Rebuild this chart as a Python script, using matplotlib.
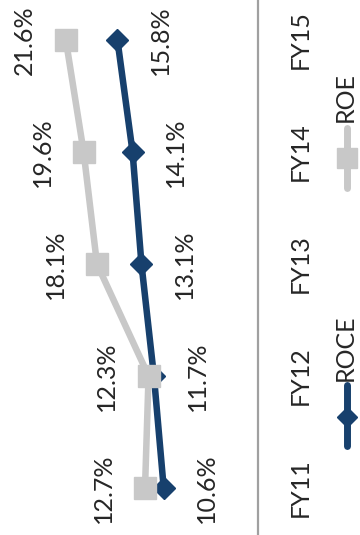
import matplotlib.pyplot as plt
from matplotlib.lines import Line2D

years = ["FY11", "FY12", "FY13", "FY14", "FY15"]
roce = [10.6, 11.7, 13.1, 14.1, 15.8]
roe = [12.7, 12.3, 18.1, 19.6, 21.6]

navy = "#17406d"
grey = "#c8c8c8"
txt = "#262626"
fs = 18
plt.rcParams["font.family"] = ["Lato", "DejaVu Sans"]

W, H = 360, 535
fig = plt.figure(figsize=(W / 100, H / 100), dpi=100)
# chart is laid out sideways: categories run bottom to top, values grow to the left
ax = fig.add_axes([0, 0, 258 / W, 1])
pos = list(range(len(years)))

ax.plot(roce, pos, color=navy, lw=4.7, marker="D", ms=11.3, zorder=2)
ax.plot(roe, pos, color=grey, lw=4.7, marker="s", ms=15.5, zorder=3)

for v, p in zip(roe, pos):
    ax.annotate(f"{v:.1f}%", (v, p), xytext=(-30, 0), textcoords="offset points",
                rotation=90, ha="center", va="center", fontsize=fs, color=txt)
for v, p in zip(roce, pos):
    ax.annotate(f"{v:.1f}%", (v, p), xytext=(31, 0), textcoords="offset points",
                rotation=90, ha="center", va="center", fontsize=fs, color=txt)

ax.set_xlim(29, 0)
ax.set_ylim(-0.42, 4.357)
ax.set_xticks([])
ax.yaxis.tick_right()
ax.set_yticks(pos)
ax.set_yticklabels(years, rotation=90, va="center", fontsize=fs, color=txt)
ax.tick_params(axis="y", length=0, pad=22)
for s in ["top", "bottom", "left"]:
    ax.spines[s].set_visible(False)
ax.spines["right"].set_color("#a0a0a0")
ax.spines["right"].set_linewidth(1.6)

# legend entries, drawn sideways like the rest
def px(x, y):
    return x / W, 1 - y / H

lx = 347
for name, col, mk, ms, y0, y1, ym, ty in [("ROCE", navy, "D", 10.4, 385, 446, 417, 348),
                                           ("ROE", grey, "s", 14, 128, 188, 158, 97)]:
    (xa, ya), (xb, yb) = px(lx, y0), px(lx, y1)
    fig.add_artist(Line2D([xa, xb], [ya, yb], color=col, lw=5,
                          solid_capstyle="round", transform=fig.transFigure))
    xm, ymf = px(lx, ym)
    fig.add_artist(Line2D([xm], [ymf], color=col, marker=mk, ms=ms,
                          transform=fig.transFigure))
    tx, tyf = px(lx - 2, ty)
    fig.text(tx, tyf, name, rotation=90, ha="center", va="center",
             fontsize=fs, color=txt)

fig.savefig("out.png", dpi=100)
